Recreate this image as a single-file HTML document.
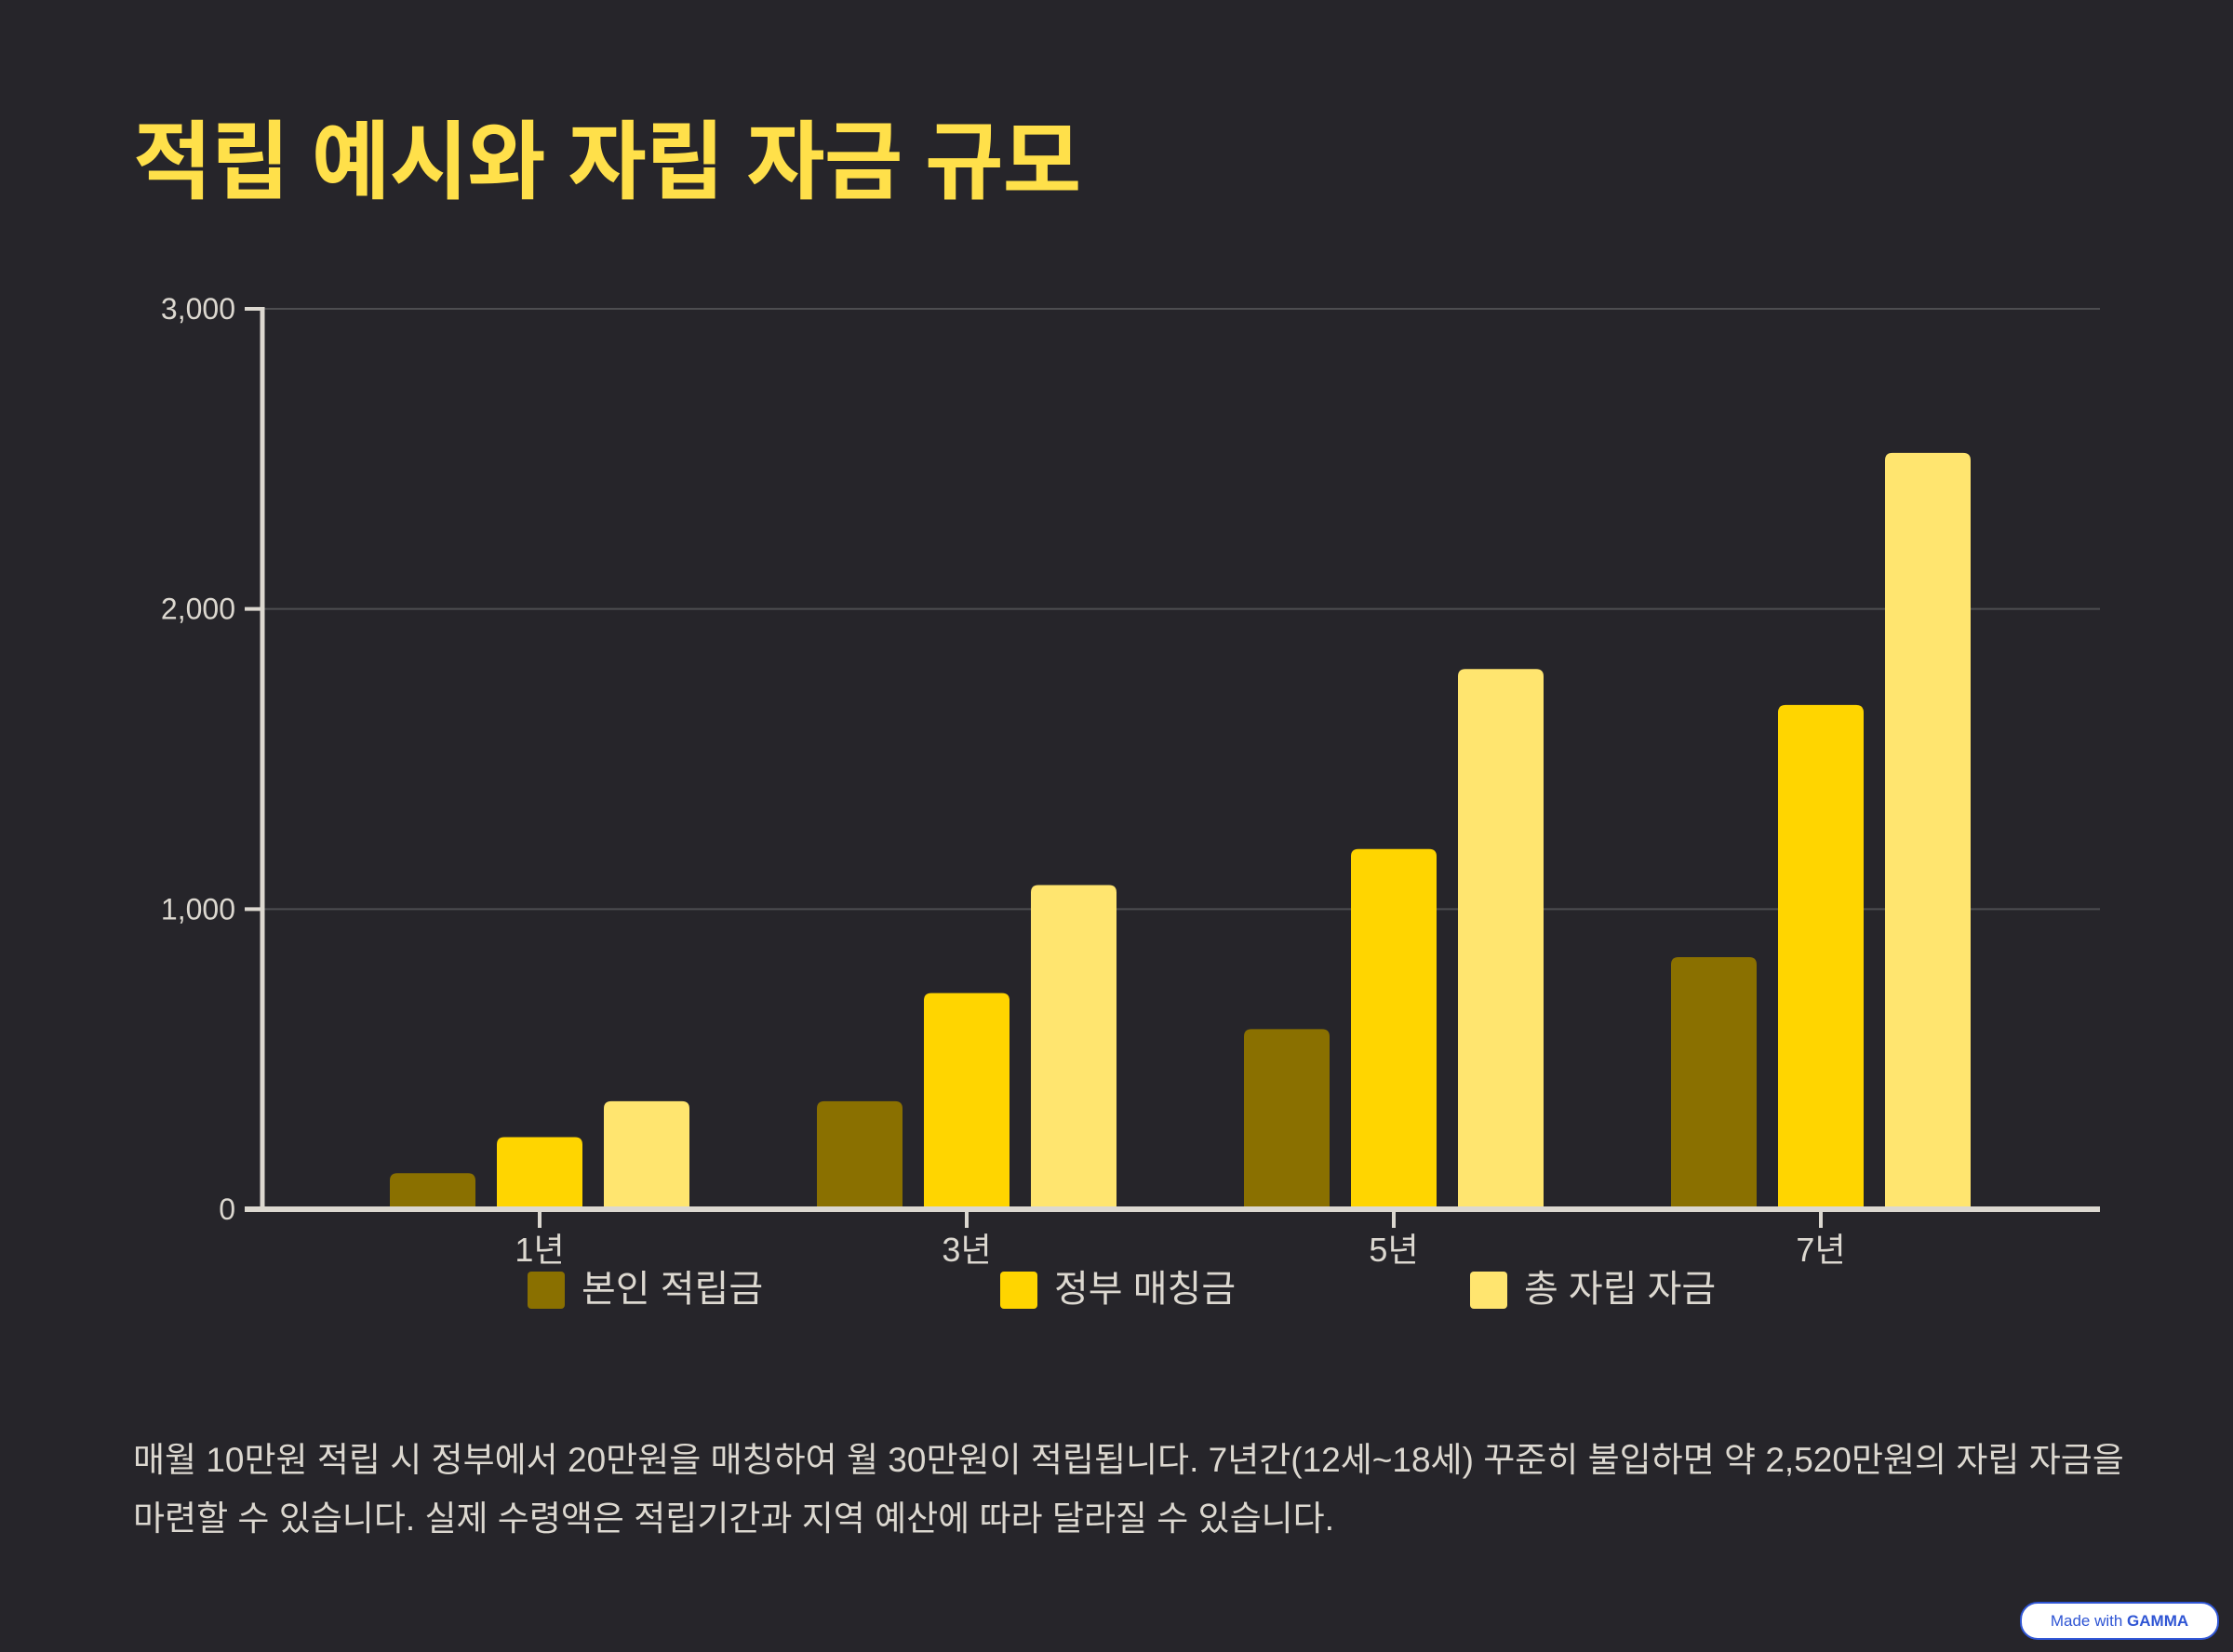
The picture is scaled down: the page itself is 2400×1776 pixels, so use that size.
<!DOCTYPE html>
<html><head><meta charset="utf-8">
<style>
html,body{margin:0;padding:0;background:#26252a;}
body{width:2400px;height:1776px;position:relative;overflow:hidden;font-family:"Liberation Sans","Noto Sans CJK KR",sans-serif;color:#dcd8d0;}
#title{position:absolute;left:143px;top:100px;font-size:92px;font-weight:bold;color:#FFE04A;margin:0;letter-spacing:-1px;}
#desc{position:absolute;left:143px;top:1538px;width:2140px;font-size:37px;line-height:63px;color:#dcd8d0;margin:0;}
#badge{position:absolute;left:2171px;top:1722px;width:210px;height:37px;border:2px solid #2f55d4;border-radius:19px;background:#fff;color:#2f55d4;font-size:17px;line-height:37px;text-align:center;}
</style></head><body>
<h1 id="title">적립 예시와 자립 자금 규모</h1>
<svg id="chart" width="2400" height="1450" style="position:absolute;left:0;top:0"></svg>
<p id="desc">매월 10만원 적립 시 정부에서 20만원을 매칭하여 월 30만원이 적립됩니다. 7년간(12세~18세) 꾸준히 불입하면 약 2,520만원의 자립 자금을 마련할 수 있습니다. 실제 수령액은 적립기간과 지역 예산에 따라 달라질 수 있습니다.</p>
<div id="badge">Made with <b>GAMMA</b></div>
<script>
const categories=["1년","3년","5년","7년"];
const seriesNames=["본인 적립금","정부 매칭금","총 자립 자금"];
const ownSavings=[120,360,600,840];
const govMatching=[240,720,1200,1680];
const totalFunds=[360,1080,1800,2520];
const yTicks=[0,1000,2000,3000];
const yTickLabels=["0","1,000","2,000","3,000"];
const series=[ownSavings,govMatching,totalFunds];
const colors=["#8a7000","#FFD500","#FFE56F"];
const NS="http://www.w3.org/2000/svg";
const svg=document.getElementById('chart');
const X0=282,X1=2257,Y0=1300,Ytop=332,YMAX=3000;
function y(v){return Y0-(v/YMAX)*(Y0-Ytop);}
const groupW=459;
function xc(i){return 580+i*groupW;}
function mk(t,a){const e=document.createElementNS(NS,t);for(const k in a)e.setAttribute(k,a[k]);svg.appendChild(e);return e;}
yTicks.forEach((v,i)=>{
 if(v>0){const g=mk('line',{x1:X0,x2:X1,y1:y(v),y2:y(v),stroke:'#4d4d50','stroke-width':2});
 
 }
 const t=mk('line',{x1:X0-19,x2:X0,y1:y(v),y2:y(v),stroke:'#dcd8d0','stroke-width':4});
 
 
 const l=mk('text',{x:253,y:y(v)+11,'text-anchor':'end','font-size':32,fill:'#dcd8d0'});
 l.textContent=yTickLabels[i];
 
 
});
series.forEach((s,si)=>{
 s.forEach((v,ci)=>{
  const cx=xc(ci)+(si-1)*115;
  const top=y(v);
  const b=mk('path',{d:`M${cx-46},${Y0} V${top+8} Q${cx-46},${top} ${cx-38},${top} H${cx+38} Q${cx+46},${top} ${cx+46},${top+8} V${Y0} Z`,fill:colors[si]});
  
  
 });
});
const ya=mk('line',{x1:X0,x2:X0,y1:Ytop-2,y2:Y0+3,stroke:'#dcd8d0','stroke-width':5});


const xa=mk('line',{x1:X0-19,x2:X1,y1:Y0,y2:Y0,stroke:'#dcd8d0','stroke-width':6});


categories.forEach((c,i)=>{
 const t=mk('line',{x1:xc(i),x2:xc(i),y1:Y0,y2:Y0+20,stroke:'#dcd8d0','stroke-width':4});
 
 
 const l=mk('text',{x:xc(i),y:Y0+56,'text-anchor':'middle','font-size':36,fill:'#dcd8d0'});
 l.textContent=c;
 
 
});
const legX=[567,1075,1580];
seriesNames.forEach((n,i)=>{
 const r=mk('rect',{x:legX[i],y:1367,width:40,height:40,rx:4,fill:colors[i]});
 
 
 const t=mk('text',{x:legX[i]+58,y:1399,'font-size':40,fill:'#dcd8d0'});
 t.textContent=n;
 
 
});
</script>
</body></html>
